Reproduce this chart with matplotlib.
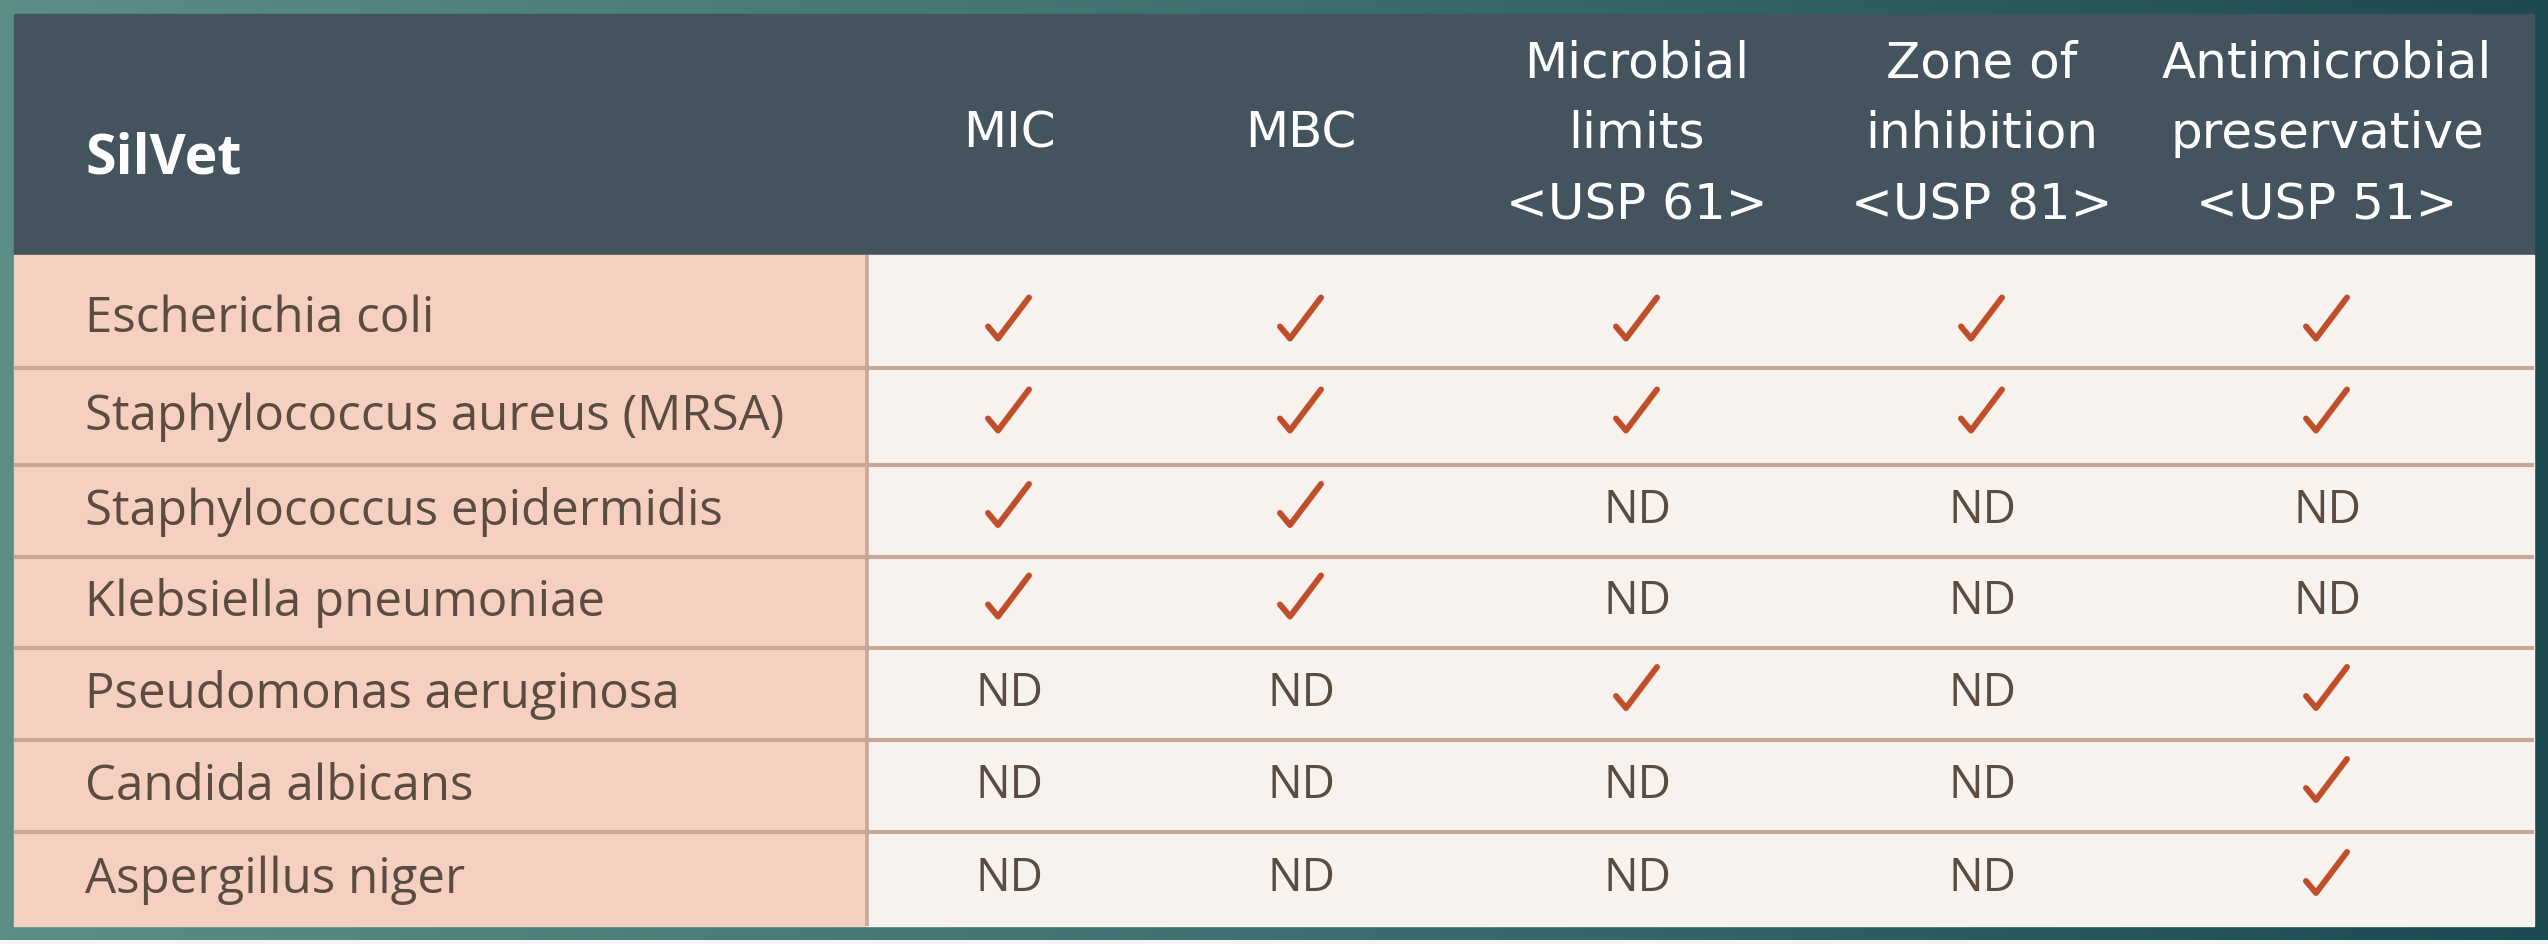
import matplotlib
matplotlib.use("Agg")
import matplotlib.pyplot as plt
import numpy as np
from matplotlib.colors import LinearSegmentedColormap

# ---------- data ----------
corner = "SilVet"
species = [
    "Escherichia coli",
    "Staphylococcus aureus (MRSA)",
    "Staphylococcus epidermidis",
    "Klebsiella pneumoniae",
    "Pseudomonas aeruginosa",
    "Candida albicans",
    "Aspergillus niger",
]
tests = [
    "MIC",
    "MBC",
    "Microbial\nlimits\n<USP 61>",
    "Zone of\ninhibition\n<USP 81>",
    "Antimicrobial\npreservative\n<USP 51>",
]
# 1 = check mark, 0 = ND
mic = [1, 1, 1, 1, 0, 0, 0]
mbc = [1, 1, 1, 1, 0, 0, 0]
usp61 = [1, 1, 0, 0, 1, 0, 0]
usp81 = [1, 1, 0, 0, 0, 0, 0]
usp51 = [1, 1, 0, 0, 1, 1, 1]
results = [mic, mbc, usp61, usp81, usp51]

# ---------- layout (pixels) ----------
W, H = 2548, 944
left, right, top, bottom = 14, 2534, 14, 926
header_bottom = 255
row_edges = [255, 368, 465, 557, 648, 740, 832, 926]
col1_right = 867
col_x = [1009, 1301, 1637, 1982, 2327]

header_bg = "#44545f"
peach = "#f5cfbf"
cell_bg = "#f8f2ef"
line_col = "#c9a797"
text_col = "#5b4c42"
check_col = "#bf4f2a"

fig = plt.figure(figsize=(W / 100, H / 100), dpi=100)
fig.patch.set_facecolor("#f4f4f4")
ax = fig.add_axes([0, 0, 1, 1])
ax.set_xlim(0, W)
ax.set_ylim(H, 0)
ax.axis("off")

# teal gradient frame
cmap = LinearSegmentedColormap.from_list("frame", ["#5b8e87", "#3c716f", "#1b4a50"])
grad = np.linspace(0, 1, 256).reshape(1, -1)
ax.imshow(grad, cmap=cmap, extent=[0, W, 940, 0], aspect="auto", zorder=0)

# backgrounds
ax.add_patch(plt.Rectangle((left, top), right - left, header_bottom - top, color=header_bg, zorder=1))
ax.add_patch(plt.Rectangle((left, header_bottom), col1_right - left, bottom - header_bottom, color=peach, zorder=1))
ax.add_patch(plt.Rectangle((col1_right, header_bottom), right - col1_right, bottom - header_bottom, color=cell_bg, zorder=1))

# grid lines
for y in row_edges[1:-1]:
    ax.plot([left, right], [y, y], color=line_col, lw=3.0, solid_capstyle="butt", zorder=2)
ax.plot([col1_right, col1_right], [header_bottom, bottom], color=line_col, lw=2.6, solid_capstyle="butt", zorder=2)

# header
ax.text(85, 173, corner, color="white", fontsize=40, fontweight="bold",
        family="Open Sans", ha="left", va="baseline", zorder=3)
for x, label in zip(col_x, tests):
    lines = label.split("\n")
    n = len(lines)
    for k, ln in enumerate(lines):
        yb = 148 + (k - (n - 1) / 2) * 71
        ax.text(x, yb, ln, color="white", fontsize=36, family="DejaVu Sans",
                ha="center", va="baseline", zorder=3)


def draw_check(cx, cy):
    xs = [cx - 21, cx - 11, cx + 20]
    ys = [cy + 8, cy + 20, cy - 21]
    ax.plot(xs, ys, color=check_col, lw=4.3, solid_capstyle="round",
            solid_joinstyle="round", zorder=3)


# rows
for i, name in enumerate(species):
    rc = (row_edges[i] + row_edges[i + 1]) / 2
    shift = 6 if i == 0 else 0
    ax.text(85, rc + 14 + shift, name, color=text_col, fontsize=35.5, family="Open Sans",
            ha="left", va="baseline", zorder=3)
    for j, x in enumerate(col_x):
        if results[j][i]:
            draw_check(x, rc - 6 + (13 if i == 0 else 0))
        else:
            ax.text(x, rc + 12, "ND", color=text_col, fontsize=33, family="Open Sans",
                    ha="center", va="baseline", zorder=3)

fig.savefig("out.png", dpi=100)
